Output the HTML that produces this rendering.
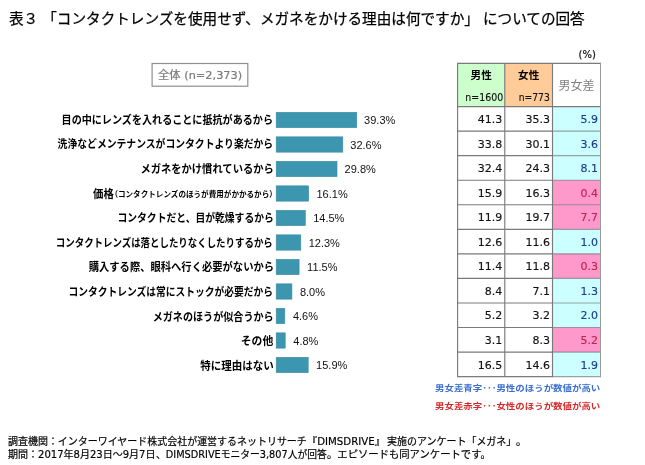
<!DOCTYPE html>
<html lang="ja"><head><meta charset="utf-8"><title>表3</title>
<style>
html,body{margin:0;padding:0;background:#fff;}
body{width:645px;height:465px;position:relative;overflow:hidden;font-family:"Liberation Sans","Noto Sans CJK JP",sans-serif;color:#111;}
.abs{position:absolute;white-space:nowrap;}
.dj{font-family:"DejaVu Sans","Noto Sans CJK JP",sans-serif;}
#title{left:8px;top:6.6px;-webkit-text-stroke:0.25px #000;font-size:14.5px;line-height:24px;color:#000;transform-origin:0 50%;}
#zent{font-size:11px;line-height:16px;color:#7a7a7a;-webkit-text-stroke:0.2px #7a7a7a;transform-origin:0 50%;}
.lab{font-weight:bold;font-size:11.4px;line-height:16px;height:16px;text-align:right;transform-origin:100% 50%;color:#000;}
.sm{font-weight:bold;font-size:8px;line-height:16px;height:16px;text-align:right;transform-origin:100% 50%;color:#000;}
.val{font-size:11px;line-height:16px;color:#111;}
#pct{font-size:10px;line-height:14px;color:#111;-webkit-text-stroke:0.2px #111;}
.num{position:absolute;-webkit-text-stroke:0.15px currentColor;font-family:"DejaVu Sans",sans-serif;font-size:11px;line-height:16px;text-align:right;color:#111;white-space:nowrap;}
.leg{font-size:8.5px;font-weight:bold;line-height:14px;transform-origin:0 50%;}
.foot{font-size:10.5px;line-height:14px;color:#000;-webkit-text-stroke:0.2px #000;transform-origin:0 50%;}
</style></head><body>
<svg id="g" width="645" height="465" viewBox="0 0 645 465" style="position:absolute;left:0;top:0"><rect x="152.1" y="63.5" width="95.7" height="22.7" fill="#fff" stroke="#8f8f8f" stroke-width="1.2"/><rect x="276.2" y="112.35" width="80.5" height="15.3" fill="#3c96af" stroke="#378ba1" stroke-width="0.6"/><rect x="276.2" y="136.85" width="66.6" height="15.3" fill="#3c96af" stroke="#378ba1" stroke-width="0.6"/><rect x="276.2" y="161.35" width="60.8" height="15.3" fill="#3c96af" stroke="#378ba1" stroke-width="0.6"/><rect x="276.2" y="185.85" width="32.4" height="15.3" fill="#3c96af" stroke="#378ba1" stroke-width="0.6"/><rect x="276.2" y="210.35" width="29.1" height="15.3" fill="#3c96af" stroke="#378ba1" stroke-width="0.6"/><rect x="276.2" y="234.85" width="24.6" height="15.3" fill="#3c96af" stroke="#378ba1" stroke-width="0.6"/><rect x="276.2" y="259.35" width="22.9" height="15.3" fill="#3c96af" stroke="#378ba1" stroke-width="0.6"/><rect x="276.2" y="283.85" width="15.7" height="15.3" fill="#3c96af" stroke="#378ba1" stroke-width="0.6"/><rect x="276.2" y="308.35" width="8.6" height="15.3" fill="#3c96af" stroke="#378ba1" stroke-width="0.6"/><rect x="276.2" y="332.85" width="9.0" height="15.3" fill="#3c96af" stroke="#378ba1" stroke-width="0.6"/><rect x="276.2" y="357.35" width="32.0" height="15.3" fill="#3c96af" stroke="#378ba1" stroke-width="0.6"/><rect x="457.6" y="63.4" width="47.2" height="43.2" fill="#ccffcc"/><rect x="504.8" y="63.4" width="47.7" height="43.2" fill="#ffcc99"/><rect x="552.5" y="106.60" width="48.0" height="24.55" fill="#ccffff"/><rect x="552.5" y="131.15" width="48.0" height="24.55" fill="#ccffff"/><rect x="552.5" y="155.69" width="48.0" height="24.55" fill="#ccffff"/><rect x="552.5" y="180.24" width="48.0" height="24.55" fill="#ff99cc"/><rect x="552.5" y="204.78" width="48.0" height="24.55" fill="#ff99cc"/><rect x="552.5" y="229.33" width="48.0" height="24.55" fill="#ccffff"/><rect x="552.5" y="253.87" width="48.0" height="24.55" fill="#ff99cc"/><rect x="552.5" y="278.42" width="48.0" height="24.55" fill="#ccffff"/><rect x="552.5" y="302.96" width="48.0" height="24.55" fill="#ccffff"/><rect x="552.5" y="327.51" width="48.0" height="24.55" fill="#ff99cc"/><rect x="552.5" y="352.05" width="48.0" height="24.55" fill="#ccffff"/><path d="M457.6 62.82V377.18M504.8 62.82V377.18M552.5 62.82V377.18M457.03 63.40H601.08M457.03 106.60H601.08M457.03 131.15H552.50M457.03 155.69H552.50M457.03 180.24H552.50M457.03 204.78H552.50M457.03 229.33H552.50M457.03 253.87H552.50M457.03 278.42H552.50M457.03 302.96H552.50M457.03 327.51H552.50M457.03 352.05H552.50M457.03 376.60H552.50" fill="none" stroke="#7a7a7a" stroke-width="1.15"/><path d="M552.50 131.15H601.00M552.50 155.69H601.00M552.50 180.24H601.00M552.50 204.78H601.00M552.50 229.33H601.00M552.50 253.87H601.00M552.50 278.42H601.00M552.50 302.96H601.00M552.50 327.51H601.00M552.50 352.05H601.00M552.50 376.60H601.00" fill="none" stroke="#6a6a6a" stroke-opacity="0.62" stroke-width="1.15"/><path d="M600.5 62.82V377.18" fill="none" stroke="#9a9a9a" stroke-width="1"/></svg>
<div id="title" class="abs" style="left:8.75px;transform:scaleX(1.0068)">表３ 「コンタクトレンズを使用せず、メガネをかける理由は何ですか」 についての回答</div>
<div id="zent" class="abs dj" style="left:157.90px;top:68px;transform:scaleX(1.0295)">全体 (n=2,373)</div>
<div class="abs lab" id="lab0" style="right:371.65px;top:111.90px;transform:scaleX(0.8847)">目の中にレンズを入れることに抵抗があるから</div>
<div class="abs val" style="left:364.1px;top:112.2px">39.3%</div>
<div class="abs lab" id="lab1" style="right:371.65px;top:136.48px;transform:scaleX(0.8616)">洗浄などメンテナンスがコンタクトより楽だから</div>
<div class="abs val" style="left:350.3px;top:136.7px">32.6%</div>
<div class="abs lab" id="lab2" style="right:371.65px;top:161.06px;transform:scaleX(0.9022)">メガネをかけ慣れているから</div>
<div class="abs val" style="left:344.6px;top:161.2px">29.8%</div>
<div class="abs lab" id="lab3" style="right:531.25px;top:185.64px;transform:scaleX(0.9118)">価格</div>
<div class="abs sm" id="sm" style="right:368.05px;top:186.8px;transform:scaleX(0.9466)">（コンタクトレンズのほうが費用がかかるから）</div>
<div class="abs val" style="left:316.5px;top:185.7px">16.1%</div>
<div class="abs lab" id="lab4" style="right:371.15px;top:210.22px;transform:scaleX(0.8599)">コンタクトだと、目が乾燥するから</div>
<div class="abs val" style="left:313.2px;top:210.2px">14.5%</div>
<div class="abs lab" id="lab5" style="right:371.90px;top:234.80px;transform:scaleX(0.8287)">コンタクトレンズは落としたりなくしたりするから</div>
<div class="abs val" style="left:308.7px;top:234.7px">12.3%</div>
<div class="abs lab" id="lab6" style="right:371.40px;top:259.38px;transform:scaleX(0.9039)">購入する際、眼科へ行く必要がないから</div>
<div class="abs val" style="left:307.1px;top:259.2px">11.5%</div>
<div class="abs lab" id="lab7" style="right:371.65px;top:283.96px;transform:scaleX(0.8553)">コンタクトレンズは常にストックが必要だから</div>
<div class="abs val" style="left:299.9px;top:283.7px">8.0%</div>
<div class="abs lab" id="lab8" style="right:371.65px;top:308.54px;transform:scaleX(0.8855)">メガネのほうが似合うから</div>
<div class="abs val" style="left:292.9px;top:308.2px">4.6%</div>
<div class="abs lab" id="lab9" style="right:371.95px;top:333.12px;transform:scaleX(0.9463)">その他</div>
<div class="abs val" style="left:293.3px;top:332.7px">4.8%</div>
<div class="abs lab" id="lab10" style="right:371.70px;top:357.70px;transform:scaleX(0.9217)">特に理由はない</div>
<div class="abs val" style="left:316.1px;top:357.2px">15.9%</div>
<div id="pct" class="abs dj" style="left:578.5px;top:47.5px">(%)</div>
<div class="num" style="right:142.8px;top:112.1px;color:#111">41.3</div>
<div class="num" style="right:95.1px;top:112.1px;color:#111">35.3</div>
<div class="num" style="right:47.1px;top:112.1px;color:#1f3a8f">5.9</div>
<div class="num" style="right:142.8px;top:136.6px;color:#111">33.8</div>
<div class="num" style="right:95.1px;top:136.6px;color:#111">30.1</div>
<div class="num" style="right:47.1px;top:136.6px;color:#1f3a8f">3.6</div>
<div class="num" style="right:142.8px;top:161.2px;color:#111">32.4</div>
<div class="num" style="right:95.1px;top:161.2px;color:#111">24.3</div>
<div class="num" style="right:47.1px;top:161.2px;color:#1f3a8f">8.1</div>
<div class="num" style="right:142.8px;top:185.7px;color:#111">15.9</div>
<div class="num" style="right:95.1px;top:185.7px;color:#111">16.3</div>
<div class="num" style="right:47.1px;top:185.7px;color:#c02450">0.4</div>
<div class="num" style="right:142.8px;top:210.3px;color:#111">11.9</div>
<div class="num" style="right:95.1px;top:210.3px;color:#111">19.7</div>
<div class="num" style="right:47.1px;top:210.3px;color:#c02450">7.7</div>
<div class="num" style="right:142.8px;top:234.8px;color:#111">12.6</div>
<div class="num" style="right:95.1px;top:234.8px;color:#111">11.6</div>
<div class="num" style="right:47.1px;top:234.8px;color:#1f3a8f">1.0</div>
<div class="num" style="right:142.8px;top:259.3px;color:#111">11.4</div>
<div class="num" style="right:95.1px;top:259.3px;color:#111">11.8</div>
<div class="num" style="right:47.1px;top:259.3px;color:#c02450">0.3</div>
<div class="num" style="right:142.8px;top:283.9px;color:#111">8.4</div>
<div class="num" style="right:95.1px;top:283.9px;color:#111">7.1</div>
<div class="num" style="right:47.1px;top:283.9px;color:#1f3a8f">1.3</div>
<div class="num" style="right:142.8px;top:308.4px;color:#111">5.2</div>
<div class="num" style="right:95.1px;top:308.4px;color:#111">3.2</div>
<div class="num" style="right:47.1px;top:308.4px;color:#1f3a8f">2.0</div>
<div class="num" style="right:142.8px;top:333.0px;color:#111">3.1</div>
<div class="num" style="right:95.1px;top:333.0px;color:#111">8.3</div>
<div class="num" style="right:47.1px;top:333.0px;color:#c02450">5.2</div>
<div class="num" style="right:142.8px;top:357.5px;color:#111">16.5</div>
<div class="num" style="right:95.1px;top:357.5px;color:#111">14.6</div>
<div class="num" style="right:47.1px;top:357.5px;color:#1f3a8f">1.9</div>
<div class="abs" style="left:457.6px;width:47.2px;top:66.8px;text-align:center;font-weight:bold;font-size:10.6px;line-height:16px;color:#000">男性</div>
<div class="abs" style="left:504.8px;width:47.7px;top:66.8px;text-align:center;font-weight:bold;font-size:10.6px;line-height:16px;color:#000">女性</div>
<div class="abs dj" id="n1" style="right:142.30px;top:90.7px;font-size:10px;line-height:14px;-webkit-text-stroke:0.15px #111;transform-origin:100% 50%;transform:scaleX(0.9421)">n=1600</div>
<div class="abs dj" id="n2" style="right:95.50px;top:90.7px;font-size:10px;line-height:14px;-webkit-text-stroke:0.15px #111;transform-origin:100% 50%;transform:scaleX(0.9223)">n=773</div>
<div class="abs" style="left:552.5px;width:48.0px;top:78px;text-align:center;font-size:12px;line-height:16px;color:#808080">男女差</div>
<div class="abs leg" id="leg1" style="left:434.80px;top:380.9px;color:#3b6ed0;transform:scaleX(1.1113)">男女差青字･･･男性のほうが数値が高い</div>
<div class="abs leg" id="leg2" style="left:434.80px;top:399.3px;color:#d42a2a;transform:scaleX(1.1113)">男女差赤字･･･女性のほうが数値が高い</div>
<div class="abs foot dj" id="f1a" style="left:8.05px;top:434.0px;transform:scaleX(0.9495)">調査機関：インターワイヤード株式会社が運営するネットリサーチ</div>
<div class="abs foot dj" id="f1b" style="left:307.00px;top:434.0px;transform:scaleX(0.9706)">『DIMSDRIVE』</div>
<div class="abs foot dj" id="f1c" style="left:386.50px;top:434.0px;transform:scaleX(0.9500)">実施のアンケート「メガネ」</div>
<div class="abs foot dj" id="f1d" style="left:516.00px;top:434.0px;transform:scaleX(1.0000)">。</div>
<div class="abs foot dj" id="f2a" style="left:8.05px;top:447.1px;transform:scaleX(0.9540)">期間：2017年8月23日～9月7日</div>
<div class="abs foot dj" id="f2b" style="left:155.50px;top:447.1px;transform:scaleX(0.9290)">、DIMSDRIVEモニター3,807人が回答</div>
<div class="abs foot dj" id="f2c" style="left:327.25px;top:447.1px;transform:scaleX(0.9835)">。エピソードも同アンケートです。</div>
</body></html>
